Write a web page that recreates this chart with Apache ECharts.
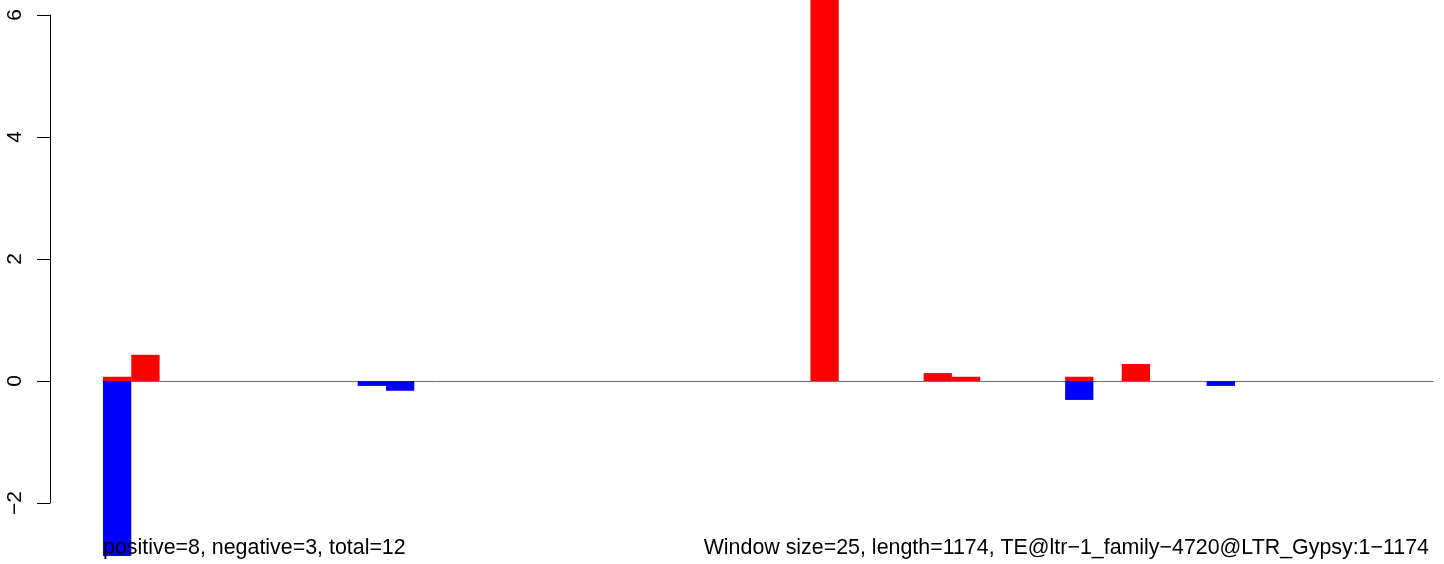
<!DOCTYPE html>
<html>
<head>
<meta charset="UTF-8">
<title>Window plot</title>
<script src="https://cdn.jsdelivr.net/npm/echarts@6/dist/echarts.min.js"></script>
<style>
  html, body { margin: 0; padding: 0; background: #fff; }
</style>
</head>
<body>
<div id="main" style="width:1444px;height:564px"></div>
<script>
// 47 windows (size 25, length 1174)
var windowCount = 47;
// positive (red) windows and values
var posIdx = [0, 1, 25, 29, 30, 34, 36];
var posVal = [0.07, 0.43, 7.0, 0.13, 0.07, 0.07, 0.28];
// negative (blue) windows and values
var negIdx = [0, 9, 10, 34, 39];
var negVal = [-2.95, -0.08, -0.16, -0.31, -0.08];
var yTicks = [-2, 0, 2, 4, 6];
var leftNote = 'positive=8, negative=3, total=12';
var rightNote = 'Window size=25, length=1174, TE@ltr\u22121_family\u22124720@LTR_Gypsy:1\u22121174';

var cats = [];
var redData = [];
var blueData = [];
for (var i = 0; i < windowCount; i++) {
    cats.push(String(i + 1));
    redData.push(null);
    blueData.push(null);
}
posIdx.forEach(function (k, j) { redData[k] = posVal[j]; });
negIdx.forEach(function (k, j) { blueData[k] = negVal[j]; });

var chart = echarts.init(document.getElementById('main'));
var font = 'Liberation Sans, Arial, Helvetica, sans-serif';

chart.setOption({
    animation: false,
    backgroundColor: '#fff',
    title: [
        { text: leftNote, left: 103, top: 538, padding: 0,
          textStyle: { fontFamily: font, fontSize: 21.4, fontWeight: 'normal', color: '#000' } },
        { text: rightNote, right: 15, top: 538, padding: 0,
          textStyle: { fontFamily: font, fontSize: 21.4, fontWeight: 'normal', color: '#000' } }
    ],
    grid: [
        // plot region
        { left: 103, right: 11, top: 0, bottom: 8 },
        // only used to draw the R style y axis from -2 to 6
        { left: 50, width: 1, top: 15, bottom: 61 }
    ],
    xAxis: [
        { type: 'category', gridIndex: 0, data: cats,
          axisLine: { onZero: true, lineStyle: { color: '#6e6e6e', width: 1 } },
          axisTick: { show: false }, axisLabel: { show: false }, splitLine: { show: false } },
        { type: 'value', gridIndex: 1, show: false }
    ],
    yAxis: [
        { type: 'value', gridIndex: 0, min: -2.87, max: 6.25, show: false,
          splitLine: { show: false } },
        { type: 'value', gridIndex: 1, min: yTicks[0], max: yTicks[yTicks.length - 1], interval: 2,
          axisLine: { show: true, lineStyle: { color: '#000', width: 1 } },
          axisTick: { show: true, length: 13, lineStyle: { color: '#000', width: 1 } },
          axisLabel: { rotate: 90, margin: 24, color: '#000', fontSize: 21, fontFamily: font,
                       formatter: function (v) { return String(v).replace('-', '\u2212'); } },
          splitLine: { show: false } }
    ],
    series: [
        { type: 'bar', name: 'positive', xAxisIndex: 0, yAxisIndex: 0, data: redData,
          barCategoryGap: 0, barGap: '-100%', clip: true,
          itemStyle: { color: '#ff0000' } },
        { type: 'bar', name: 'negative', xAxisIndex: 0, yAxisIndex: 0, data: blueData,
          barCategoryGap: 0, barGap: '-100%', clip: true,
          itemStyle: { color: '#0000ff' } }
    ]
});
</script>
</body>
</html>
